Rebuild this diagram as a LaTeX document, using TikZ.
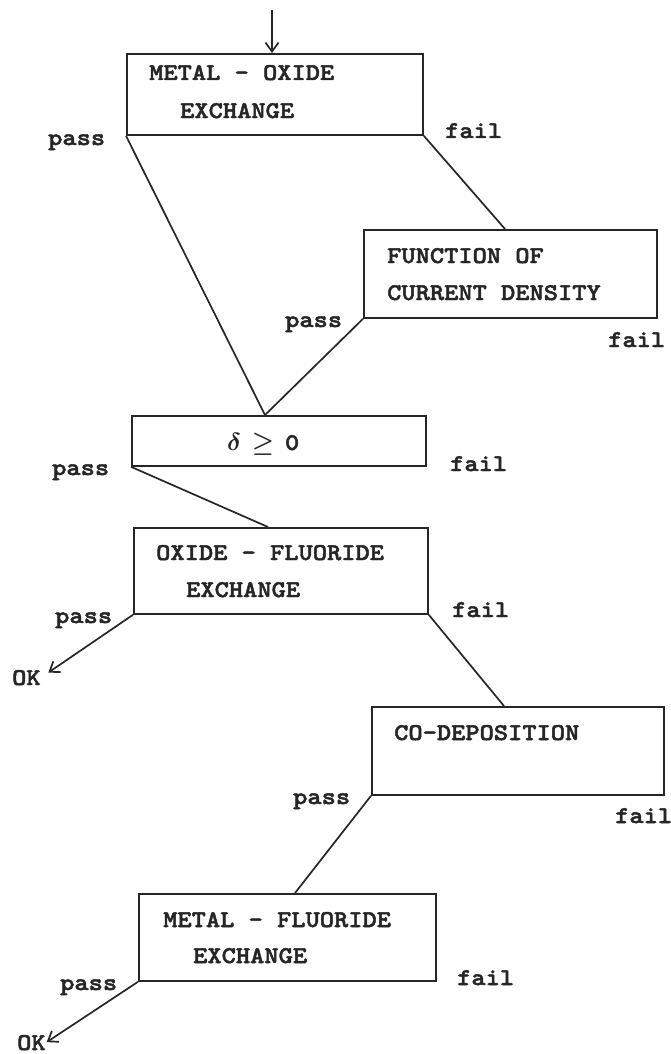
\documentclass[tikz,border=0pt]{standalone}
\usepackage{fontspec}
\newfontfamily\reffont[FakeStretch=1.13,FakeBold=2]{lmmonolt10-bold.otf}
\usetikzlibrary{arrows.meta}
\begin{document}
\begin{tikzpicture}[x=1pt,y=-1pt,
  box/.style={draw=black!85, line width=1.8pt, inner sep=0pt, anchor=north west},
  txt/.style={anchor=base west, inner sep=0pt, text=black!85, font=\fontsize{24}{28}\selectfont\reffont\boldmath},
  conn/.style={draw=black!85, line width=1.7pt},
  arr/.style={draw=black!85, line width=1.7pt, -{Straight Barb[length=9pt,width=13pt,line width=1.7pt]}}]
\useasboundingbox (0,0) rectangle (670,1054);
% boxes
\node[box, minimum width=296pt, minimum height=81pt] (b1) at (126,53) {};
\node[box, minimum width=293pt, minimum height=88pt] (b2) at (363,229) {};
\node[box, minimum width=294pt, minimum height=50pt] (b3) at (131,415) {};
\node[box, minimum width=294pt, minimum height=86pt] (b4) at (133,527) {};
\node[box, minimum width=292pt, minimum height=88pt] (b5) at (371,706) {};
\node[box, minimum width=297pt, minimum height=87pt] (b6) at (138,893) {};
% box texts
\node[txt] (t1a) at (149,80) {METAL - OXIDE};
\node[txt] (t1b) at (180,118) {EXCHANGE};
\node[txt] (t2a) at (387,263) {FUNCTION OF};
\node[txt] (t2b) at (387,300) {CURRENT DENSITY};
\node[txt] (t3) at (227,450) {$\delta$\hspace{0.45em}$\geq$\hspace{0.45em}0};
\node[txt] (t4a) at (156,560) {OXIDE - FLUORIDE};
\node[txt] (t4b) at (186,597) {EXCHANGE};
\node[txt] (t5) at (394,740) {CO-DEPOSITION};
\node[txt] (t6a) at (163,927) {METAL - FLUORIDE};
\node[txt] (t6b) at (193,963) {EXCHANGE};
% pass / fail labels
\node[txt] (p1) at (48,145) {pass};
\node[txt] (f1) at (445,138) {fail};
\node[txt] (p2) at (285,327) {pass};
\node[txt] (f2) at (608,347) {fail};
\node[txt] (p3) at (52,475) {pass};
\node[txt] (f3) at (450,471) {fail};
\node[txt] (p4) at (55,623) {pass};
\node[txt] (f4) at (452,617) {fail};
\node[txt] (p5) at (293,804) {pass};
\node[txt] (f5) at (615,823) {fail};
\node[txt] (p6) at (60,990) {pass};
\node[txt] (f6) at (457,985) {fail};
\node[txt] (ok1) at (12,685) {OK};
\node[txt] (ok2) at (17,1050) {OK};
% junction points on box tops
\coordinate (in) at (272,10);
\coordinate (j2) at (505,229);
\coordinate (j3) at (265,415);
\coordinate (j4) at (268,527);
\coordinate (j5) at (504,706);
\coordinate (j6) at (295,893);
% connectors
\draw[arr] (in) -- (in |- b1.north);
\draw[conn] (b1.south west) -- (j3);
\draw[conn] (b1.south east) -- (j2);
\draw[conn] (b2.south west) -- (j3);
\draw[conn] (b3.south west) -- (j4);
\draw[arr, shorten >=9pt] (b4.south west) -- (ok1.east);
\draw[conn] (b4.south east) -- (j5);
\draw[conn] (b5.south west) -- (j6);
\draw[arr, shorten >=1pt] (b6.south west) -- (ok2.east);
\end{tikzpicture}
\end{document}
